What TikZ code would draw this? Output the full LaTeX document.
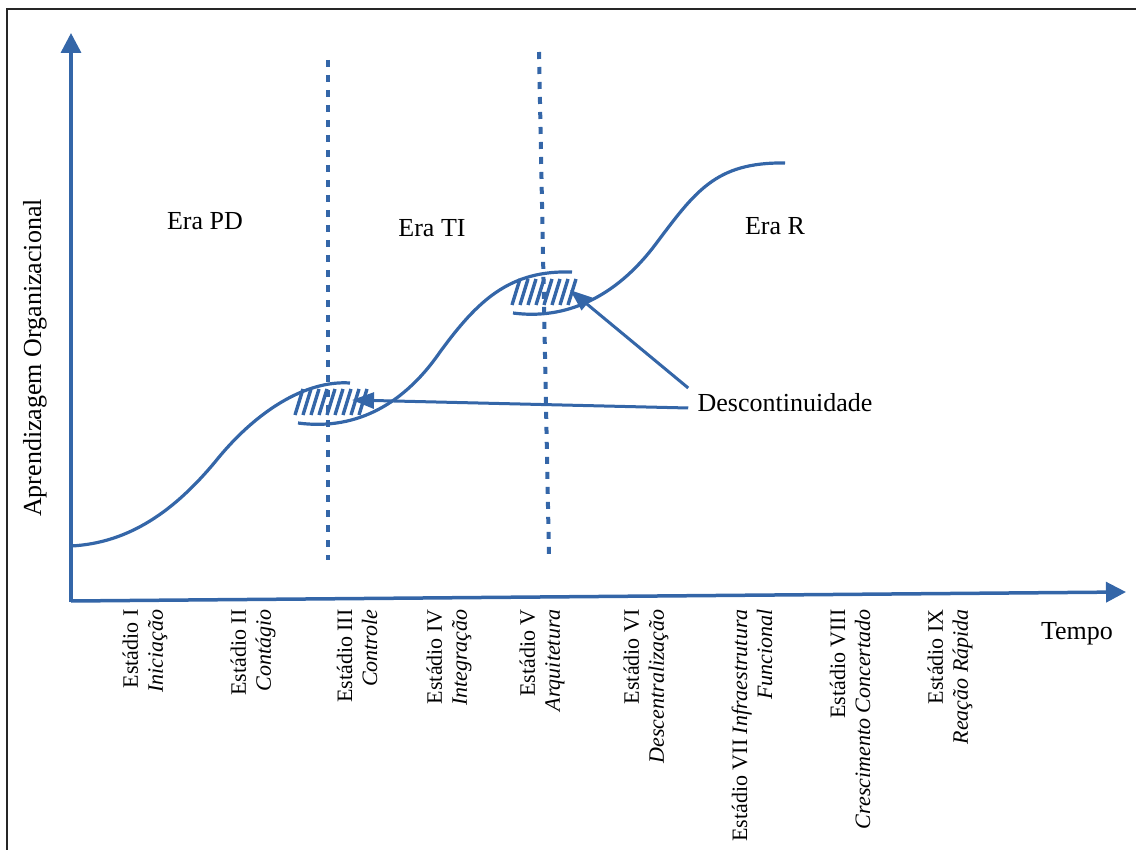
\documentclass[tikz,border=0pt]{standalone}
\usepackage{fontspec}
\setmainfont{Liberation Serif}
\usetikzlibrary{arrows.meta,calc}
\definecolor{curveblue}{RGB}{52,102,168}
\begin{document}
\begin{tikzpicture}[x=0.5pt,y=-0.5pt,
  axis/.style={curveblue,line width=1.75pt,-{Triangle[length=10pt,width=10pt]}},
  growth/.style={curveblue,line width=1.6pt},
  erasep/.style={curveblue,line width=2pt,dash pattern=on 3.5pt off 4pt},
  hatchline/.style={curveblue,line width=1.7pt},
  pointer/.style={curveblue,line width=1.5pt,-{Triangle[length=11pt,width=8pt]}},
  lbl/.style={font=\fontsize{13}{15}\selectfont,inner sep=0pt},
  stage/.style={font=\fontsize{11}{12.5}\selectfont,rotate=90,anchor=east,align=right,inner sep=0pt}]

\useasboundingbox (0,0) rectangle (1136,850);

% outer frame (open to the right and bottom)
\draw[line width=1.2pt,black!85] (7,850) -- (7,9) -- (1136,9);

% axes
\coordinate (O) at (71,602);
\coordinate (ytip) at (71,33);
\coordinate (xtip) at (1126,592);
\draw[axis] (O) -- (ytip);
\draw[axis] (71,601) -- (xtip);

% era separators
\coordinate (s1top) at (328,60);
\coordinate (s1bot) at (328,560);
\coordinate (s2top) at (539,52);
\coordinate (s2bot) at (549,557);
\draw[erasep] (s1top) -- (s1bot);
\draw[erasep] (s2top) -- (s2bot);

% learning curves
\draw[growth] (71,546) .. controls (130,543) and (175,510) .. (215,462)
  .. controls (255,412) and (305,380) .. (350,383);
\draw[growth] (298,423) .. controls (350,430) and (400,410) .. (440,352)
  .. controls (478,300) and (510,270) .. (572,272);
\draw[growth] (513,313) .. controls (565,320) and (615,298) .. (655,245)
  .. controls (695,192) and (715,162) .. (785,163);

% hatched discontinuity zones
\foreach \x in {295,303,311,319,327,335,343,351,359}
  \draw[hatchline] (\x,415) -- (\x+8,389);
\foreach \x in {512,520,528,536,544,552,560,568}
  \draw[hatchline] (\x,305) -- (\x+8,279);

% era labels
\node[lbl] (pd) at (205,221) {Era PD};
\node[lbl] (ti) at (432,228) {Era TI};
\node[lbl] (er) at (775,226) {Era R};

% discontinuity label and pointers
\node[lbl] (desc) at (785,403) {Descontinuidade};
\coordinate (t1) at (352,400);
\coordinate (t2) at (570,290);
\draw[pointer] ($(desc.west)+(-9,5)$) -- (t1);
\draw[pointer] ($(desc.west)+(-9,-15)$) -- (t2);

% axis labels
\node[lbl,rotate=90] (ylab) at (35,358) {Aprendizagem Organizacional};
\node[lbl] (tempo) at (1077,634) {Tempo};

% stages
\node[stage] (st1) at (145,609) {Estádio I\\\textit{Iniciação}};
\node[stage] (st2) at (253,609) {Estádio II\\\textit{Contágio}};
\node[stage] (st3) at (357,609) {Estádio III\\\textit{Controle}};
\node[stage] (st4) at (449,609) {Estádio IV\\\textit{Integração}};
\node[stage] (st5) at (542,609) {Estádio V\\\textit{Arquitetura}};
\node[stage] (st6) at (646,609) {Estádio VI\\\textit{Descentralização}};
\node[stage] (st7) at (752,609) {Estádio VII \textit{Infraestrutura}\\\textit{Funcional}};
\node[stage] (st8) at (850,609) {Estádio VIII\\\textit{Crescimento Concertado}};
\node[stage] (st9) at (950,609) {Estádio IX\\\textit{Reação Rápida}};

\end{tikzpicture}
\end{document}
